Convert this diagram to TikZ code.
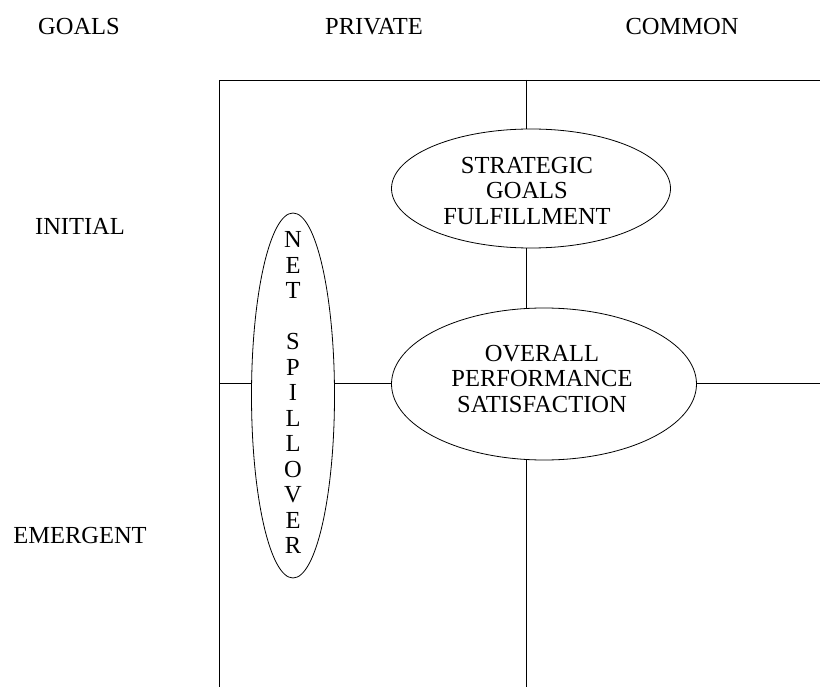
\documentclass[tikz,border=0pt]{standalone}
\usepackage{fontspec}
\setmainfont{Liberation Serif}
\usetikzlibrary{shapes.geometric}
\begin{document}
\begin{tikzpicture}[x=1pt,y=-1pt,
  lbl/.style={font=\fontsize{24.5}{26}\selectfont,inner sep=0pt},
  oval/.style={draw,ellipse,inner sep=0pt,line width=0.8pt},
  otext/.style={inner sep=0pt,align=center,font=\fontsize{24.5}{25.8}\selectfont},
  ln/.style={line width=0.8pt}]
\useasboundingbox (0,0) rectangle (820,687);
% headers
\node[lbl,anchor=base] (goals) at (79,35) {GOALS};
\node[lbl,anchor=base] (private) at (374,35) {PRIVATE};
\node[lbl,anchor=base] (common) at (682,35) {COMMON};
\node[lbl,anchor=base] (initial) at (80,235) {INITIAL};
\node[lbl,anchor=base] (emergent) at (80,543) {EMERGENT};
% ovals
\node[oval,minimum width=279pt,minimum height=119pt] (strat) at (531,188.5) {};
\node[otext] (strattext) at (527,191) {STRATEGIC\\GOALS\\FULFILLMENT};
\node[oval,minimum width=305pt,minimum height=152pt] (overall) at (544,384) {};
\node[otext] (overalltext) at (542,379) {OVERALL\\PERFORMANCE\\SATISFACTION};
\node[oval,minimum width=83pt,minimum height=365pt] (spill) at (293,395.5) {};
\node[otext,font=\fontsize{24.5}{25.5}\selectfont] (spilltext) at (293,392.5)
  {N\\E\\T\\\mbox{}\\S\\P\\I\\L\\L\\O\\V\\E\\R};
% grid coordinates
\coordinate (tl) at (219,80);
\coordinate (tr) at (820,80);
\coordinate (bl) at (219,687);
\coordinate (tm) at (526,80);
\coordinate (bm) at (526,687);
\coordinate (ml) at (219,383);
\coordinate (mr) at (820,383);
% lines
\draw[ln] (tr) -- (tl) -- (bl);
\draw[ln] (tm) -- (tm |- strat.north);
\draw[ln] (tm |- strat.south) -- (tm |- overall.north);
\draw[ln] (tm |- overall.south) -- (bm);
\draw[ln] (ml) -- (ml -| spill.west);
\draw[ln] (ml -| spill.east) -- (ml -| overall.west);
\draw[ln] (ml -| overall.east) -- (mr);
\end{tikzpicture}
\end{document}
